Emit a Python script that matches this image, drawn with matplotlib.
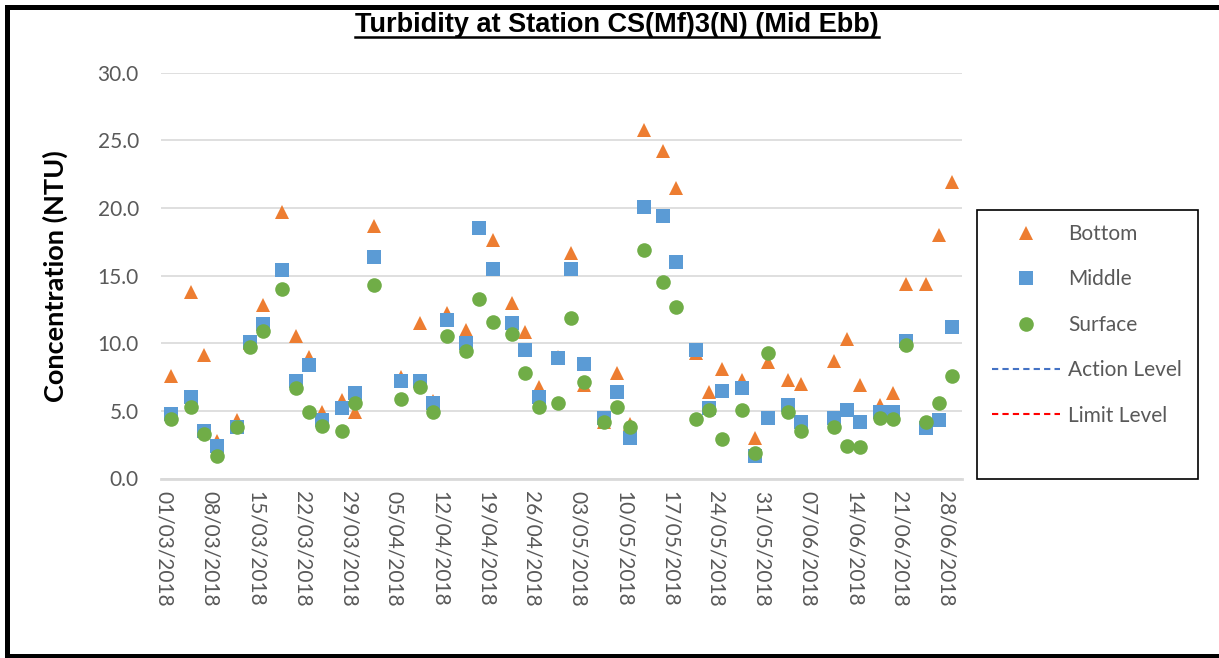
import matplotlib
matplotlib.use("Agg")
import matplotlib.pyplot as plt
import matplotlib.dates as mdates
from matplotlib.lines import Line2D
from matplotlib.patches import Rectangle
import pandas as pd

# Mid-ebb turbidity readings (NTU) at station CS(Mf)3(N), Mar-Jun 2018
sample_dates = [
    "2018-03-02", "2018-03-05", "2018-03-07", "2018-03-09", "2018-03-12",
    "2018-03-14", "2018-03-16", "2018-03-19", "2018-03-21", "2018-03-23",
    "2018-03-25", "2018-03-28", "2018-03-30", "2018-04-02", "2018-04-06",
    "2018-04-09", "2018-04-11", "2018-04-13", "2018-04-16", "2018-04-18",
    "2018-04-20", "2018-04-23", "2018-04-25", "2018-04-27", "2018-04-30",
    "2018-05-02", "2018-05-04", "2018-05-07", "2018-05-09", "2018-05-11",
    "2018-05-13", "2018-05-16", "2018-05-18", "2018-05-21", "2018-05-23",
    "2018-05-25", "2018-05-28", "2018-05-30", "2018-06-01", "2018-06-04",
    "2018-06-06", "2018-06-11", "2018-06-13", "2018-06-15", "2018-06-18",
    "2018-06-20", "2018-06-22", "2018-06-25", "2018-06-27", "2018-06-29",
]
bottom = [
    7.6, 13.8, 9.1, 2.8, 4.3, 10.0, 12.8, 19.7, 10.5, 9.0,
    4.9, 5.8, 4.9, 18.7, 7.5, 11.5, 5.7, 12.2, 11.0, 18.5,
    17.6, 13.0, 10.8, 6.8, 9.0, 16.7, 6.9, 4.2, 7.8, 4.0,
    25.8, 24.2, 21.5, 9.3, 6.4, 8.1, 7.3, 3.0, 8.6, 7.3,
    7.0, 8.7, 10.3, 6.9, 5.4, 6.3, 14.4, 14.4, 18.0, 21.9,
]
middle = [
    4.8, 6.0, 3.5, 2.4, 3.8, 10.1, 11.4, 15.4, 7.2, 8.4,
    4.3, 5.2, 6.3, 16.4, 7.2, 7.2, 5.6, 11.7, 10.0, 18.5,
    15.5, 11.5, 9.5, 6.0, 8.9, 15.5, 8.5, 4.5, 6.4, 3.0,
    20.1, 19.4, 16.0, 9.5, 5.2, 6.5, 6.7, 1.7, 4.5, 5.4,
    4.2, 4.5, 5.1, 4.2, 4.9, 4.9, 10.2, 3.7, 4.3, 11.2,
]
surface = [
    4.4, 5.3, 3.3, 1.7, 3.8, 9.7, 10.9, 14.0, 6.7, 4.9,
    3.9, 3.5, 5.6, 14.3, 5.9, 6.8, 4.9, 10.5, 9.4, 13.3,
    11.6, 10.7, 7.8, 5.3, 5.6, 11.9, 7.1, 4.2, 5.3, 3.8,
    16.9, 14.5, 12.7, 4.4, 5.1, 2.9, 5.1, 1.9, 9.3, 4.9,
    3.5, 3.8, 2.4, 2.3, 4.5, 4.4, 9.9, 4.2, 5.6, 7.6,
]
series_names = ["Bottom", "Middle", "Surface"]
level_names = ["Action Level", "Limit Level"]
y_ticks = [0, 5, 10, 15, 20, 25, 30]

W, H = 1219, 658
DPI = 100
GREY = "#595959"
BODY_FONT = ["Lato", "DejaVu Sans"]

fig = plt.figure(figsize=(W / DPI, H / DPI), dpi=DPI)
fig.patch.set_facecolor("white")

ax = fig.add_axes([161 / W, 1 - 478.5 / H, 801 / W, 405.8 / H])

dates = pd.to_datetime(sample_dates)
styles = [
    dict(marker="^", color="#ED7D31"),
    dict(marker="s", color="#5B9BD5"),
    dict(marker="o", color="#70AD47"),
]
for values, name, st in zip([bottom, middle, surface], series_names, styles):
    ax.plot(dates, values, linestyle="none", marker=st["marker"],
            markersize=10.5, markerfacecolor=st["color"],
            markeredgewidth=0, label=name, zorder=3)

# axes ranges and ticks
x_start = pd.Timestamp("2018-03-01") - pd.Timedelta(hours=12)
x_end = pd.Timestamp("2018-06-30") + pd.Timedelta(hours=12)
ax.set_xlim(mdates.date2num(x_start), mdates.date2num(x_end))
ax.set_ylim(0, 30)

tick_dates = pd.date_range("2018-03-01", "2018-06-28", freq="7D")
ax.set_xticks(mdates.date2num(tick_dates))
ax.set_xticklabels([d.strftime("%d/%m/%Y") for d in tick_dates],
                   rotation=270, ha="center", va="top",
                   color=GREY, fontsize=15, family=BODY_FONT)
ax.set_yticks(y_ticks)
ax.set_yticklabels([f"{v:.1f}" for v in y_ticks],
                   color=GREY, fontsize=15, family=BODY_FONT)
ax.tick_params(axis="both", length=0)
ax.tick_params(axis="y", pad=16)
ax.tick_params(axis="x", pad=9)

ax.grid(axis="y", color="#D9D9D9", linewidth=1.2, zorder=0)
ax.set_axisbelow(True)
for side in ["top", "right", "left"]:
    ax.spines[side].set_visible(False)
ax.spines["bottom"].set_color("#D9D9D9")
ax.spines["bottom"].set_linewidth(2.0)

# axis title
fig.text(55 / W, 1 - 276 / H, "Concentration (NTU)", rotation=90,
         ha="center", va="center", fontsize=19.5, fontweight="bold",
         family=BODY_FONT, color="black")

# chart title with underline
title = fig.text(617 / W, 1 - 25 / H, "Turbidity at Station CS(Mf)3(N) (Mid Ebb)",
                 ha="center", va="center", fontsize=19.5, fontweight="bold",
                 family=["Liberation Sans", "DejaVu Sans"], color="black")
fig.canvas.draw()
bb = title.get_window_extent(renderer=fig.canvas.get_renderer())
inv = fig.transFigure.inverted()
(ux0, uy), (ux1, _) = inv.transform([(bb.x0, bb.y0 + 1), (bb.x1, bb.y0 + 1)])
fig.add_artist(Line2D([ux0, ux1], [uy, uy], transform=fig.transFigure,
                      color="black", linewidth=1.8))

# legend
handles = [
    Line2D([], [], linestyle="none", marker="^", markersize=10.5,
           markerfacecolor="#ED7D31", markeredgewidth=0),
    Line2D([], [], linestyle="none", marker="s", markersize=10.5,
           markerfacecolor="#5B9BD5", markeredgewidth=0),
    Line2D([], [], linestyle="none", marker="o", markersize=10.5,
           markerfacecolor="#70AD47", markeredgewidth=0),
    Line2D([], [], linestyle=(0, (3, 2)), color="#4472C4", linewidth=1.5),
    Line2D([], [], linestyle=(0, (3, 2)), color="#FF0000", linewidth=1.5),
]
leg = fig.legend(handles, series_names + level_names,
                 loc="upper left", bbox_to_anchor=(992 / W, 1 - 224 / H),
                 frameon=False, handlelength=3.27, handletextpad=0.4,
                 labelspacing=1.22, borderpad=0, borderaxespad=0,
                 prop=dict(family=BODY_FONT, size=15))
for txt in leg.get_texts():
    txt.set_color(GREY)

fig.add_artist(Rectangle((977 / W, 1 - 479 / H), 220.5 / W, 269 / H,
                         transform=fig.transFigure, fill=False,
                         edgecolor="black", linewidth=1.2))

# outer frame (left, top, bottom edges)
frame_kw = dict(transform=fig.transFigure, color="black", linewidth=3.6,
                solid_capstyle="projecting")
fig.add_artist(Line2D([6.5 / W, 6.5 / W], [1 - 6.5 / H, 1 - 656 / H], **frame_kw))
fig.add_artist(Line2D([6.5 / W, 1.0], [1 - 6.5 / H, 1 - 6.5 / H], **frame_kw))
fig.add_artist(Line2D([6.5 / W, 1.0], [1 - 656 / H, 1 - 656 / H], **frame_kw))

fig.savefig("out.png", dpi=DPI, facecolor="white")
